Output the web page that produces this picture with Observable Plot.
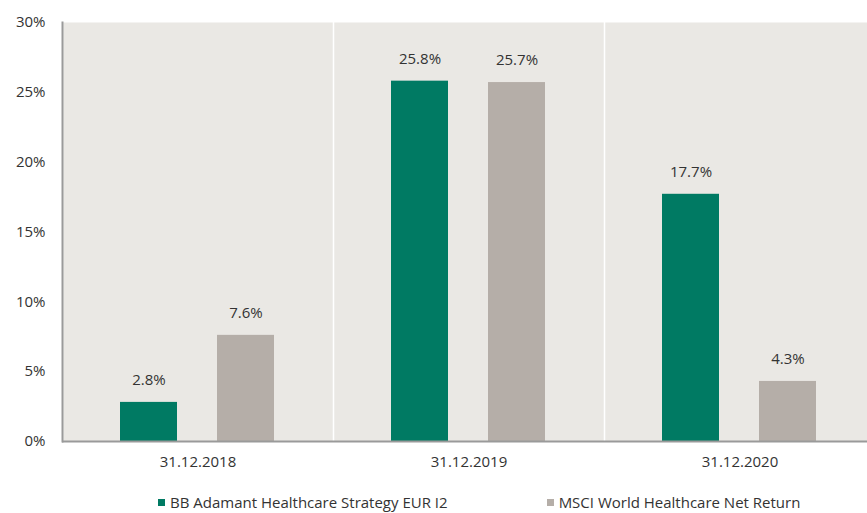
<!DOCTYPE html>
<html>
<head>
<meta charset="utf-8">
<script src="https://cdn.jsdelivr.net/npm/d3@7"></script>
<script src="https://cdn.jsdelivr.net/npm/@observablehq/plot@0.6"></script>
<style>
  html, body { margin: 0; padding: 0; background: #fff; overflow: hidden; width: 867px; height: 513px; }
  body { font-family: "Open Sans", sans-serif; color: #333; }
  #chart svg { display: block; overflow: hidden; }
  .legend { display: flex; align-items: center; margin-left: 158px; margin-top: 1px; height: 22px; font-size: 15px; line-height: 20px; color: #333; white-space: nowrap; }
  .legend .item { display: flex; align-items: center; }
  .legend .item + .item { margin-left: 99px; }
  .legend .sw { width: 7px; height: 7px; margin-right: 5px; }
</style>
</head>
<body>
<div id="chart"></div>
<div class="legend" id="legend"></div>
<script>
const dates = ["31.12.2018", "31.12.2019", "31.12.2020"];
const seriesNames = ["BB Adamant Healthcare Strategy EUR I2", "MSCI World Healthcare Net Return"];
const fundValues = [2.8, 25.8, 17.7];
const indexValues = [7.6, 25.7, 4.3];
const yTicks = [0, 5, 10, 15, 20, 25, 30];
const colors = ["#007A63", "#B5AEA8"];

const rows = [];
dates.forEach((d, i) => {
  rows.push({date: d, series: seriesNames[0], value: fundValues[i]});
  rows.push({date: d, series: seriesNames[1], value: indexValues[i]});
});

const font = "Open Sans, sans-serif";

const chart = Plot.plot({
  width: 867,
  height: 490,
  marginLeft: 61,
  marginRight: -9,
  marginTop: 22,
  marginBottom: 49,
  style: {fontFamily: font, fontSize: "15px", color: "#333", background: "#fff"},
  fx: {domain: dates, padding: 0, label: null, axis: null},
  x: {domain: seriesNames, paddingInner: 0.408, paddingOuter: 0.59, axis: null},
  y: {domain: [0, 30], label: null},
  color: {domain: seriesNames, range: colors},
  marks: [
    Plot.frame({fill: "#EAE8E4", stroke: null}),
    Plot.frame({anchor: "left", stroke: "#fff", strokeWidth: 1.5}),
    Plot.barY(rows, {fx: "date", x: "series", y: "value", fill: "series"}),
    Plot.text(rows, {fx: "date", x: "series", y: "value", text: d => d.value.toFixed(1) + "%", dy: -22, fill: "#333", fontSize: 15}),
    Plot.ruleY([0], {stroke: "#9a9a9a", strokeWidth: 2}),
    Plot.frame({anchor: "left", facet: "super", stroke: "#9a9a9a", strokeWidth: 2}),
    Plot.axisY({ticks: yTicks, tickSize: 0, tickPadding: 17, tickFormat: d => d + "%", fontSize: 15, label: null}),
    Plot.axisFx({anchor: "bottom", tickSize: 0, tickPadding: 15, fontSize: 15, label: null})
  ]
});
document.getElementById("chart").appendChild(chart);

const legend = document.getElementById("legend");
seriesNames.forEach((name, i) => {
  const item = document.createElement("div");
  item.className = "item";
  const sw = document.createElement("span");
  sw.className = "sw";
  sw.style.background = colors[i];
  const label = document.createElement("span");
  label.textContent = name;
  item.appendChild(sw);
  item.appendChild(label);
  legend.appendChild(item);
});
</script>
</body>
</html>
